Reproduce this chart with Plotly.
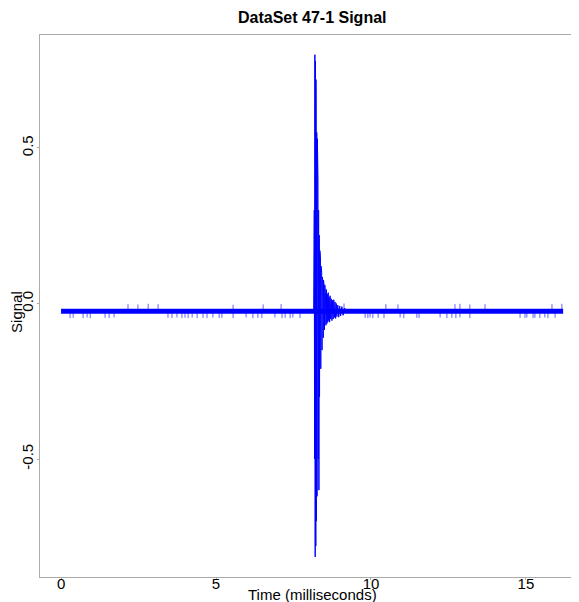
import plotly.graph_objects as go

# ---- data ----
band_time = [0.0, 16.2]          # ms, extent of the dense noise band
band_level = [-0.025, -0.025]    # centre of the noise band

spike_down_time = [0.29, 0.39, 0.71, 0.84, 0.94, 1.42, 1.55, 1.71, 3.45, 3.58, 3.74, 3.90,
                   4.00, 4.10, 4.23, 4.39, 4.58, 4.71, 4.90, 5.10, 5.19, 5.55, 5.97, 6.19,
                   6.35, 6.48, 6.90, 7.13, 7.23, 7.39, 7.48, 7.71, 9.81, 9.90, 9.97, 10.06,
                   10.23, 10.42, 10.94, 11.06, 11.48, 11.55, 12.23, 12.45, 12.61, 12.74, 12.87,
                   13.19, 14.81, 14.97, 15.03, 15.23, 15.29, 15.45, 15.61, 15.71, 15.94]
spike_down_value = [-0.047, -0.046, -0.047, -0.045, -0.047, -0.046, -0.047, -0.045,
                    -0.046, -0.047, -0.045, -0.047, -0.046, -0.047, -0.045, -0.047, -0.046,
                    -0.047, -0.045, -0.047, -0.046, -0.047, -0.045, -0.047, -0.046, -0.047,
                    -0.045, -0.047, -0.046, -0.047, -0.045, -0.047, -0.046, -0.047, -0.045,
                    -0.047, -0.046, -0.047, -0.045, -0.047, -0.046, -0.047, -0.045, -0.047,
                    -0.046, -0.047, -0.045, -0.047, -0.046, -0.047, -0.045, -0.047, -0.046,
                    -0.047, -0.045, -0.047, -0.046]

spike_up_time = [2.16, 2.48, 2.81, 3.13, 5.55, 6.52, 7.10, 9.13, 10.48, 10.87, 12.71,
                 12.87, 13.19, 13.68, 15.84, 16.16]
spike_up_value = [-0.002, -0.003, -0.001, -0.002, -0.004, -0.003, -0.002, 0.000, -0.002,
                  -0.003, -0.002, -0.001, -0.003, -0.002, -0.002, -0.001]

burst_time = [8.15, 8.17, 8.18, 8.185, 8.19, 8.195, 8.20, 8.205, 8.21, 8.215, 8.22, 8.225,
              8.23, 8.235, 8.24, 8.25, 8.26, 8.27, 8.28, 8.29, 8.30, 8.31, 8.32, 8.33,
              8.34, 8.35, 8.36, 8.37, 8.38, 8.39, 8.40, 8.41, 8.42, 8.43, 8.44, 8.45,
              8.46, 8.47, 8.48, 8.49, 8.50, 8.51, 8.52, 8.53, 8.545, 8.56, 8.575, 8.59,
              8.605, 8.62, 8.635, 8.65, 8.665, 8.68, 8.70, 8.72, 8.74, 8.76, 8.78, 8.80,
              8.82, 8.84, 8.86, 8.88, 8.90, 8.93, 8.96, 8.99, 9.02, 9.06, 9.10, 9.15, 9.20]
burst_value = [-0.023, 0.30, -0.50, 0.55, 0.80, -0.74, -0.815, 0.70, 0.78, -0.60, -0.78, 0.72,
               0.60, -0.70, -0.45, 0.55, -0.62, 0.53, -0.55, 0.40, -0.50, 0.30, -0.60, 0.22,
               -0.30, 0.17, -0.26, 0.15, -0.21, 0.12, -0.19, 0.10, -0.15, 0.085, -0.13, 0.07,
               -0.11, 0.075, -0.095, 0.05, -0.085, 0.06, -0.08, 0.035, -0.07, 0.045, -0.065,
               0.03, -0.06, 0.035, -0.055, 0.02, -0.06, 0.025, -0.05, 0.015, -0.055, 0.01,
               -0.05, 0.012, -0.045, 0.005, -0.048, 0.0, -0.042, -0.005, -0.044, -0.008,
               -0.04, -0.01, -0.038, -0.015, -0.025]

x_tick_vals = [0, 5, 10, 15]
x_tick_text = ["0", "5", "10", "15"]
y_tick_vals = [-0.5, 0.0, 0.5]
y_tick_text = ["-0.5", "0.0", "0.5"]

BLUE = "#0000FF"
GREY = "#ababab"
FONT = "Liberation Sans, Arial, sans-serif"


def segments(times, values, base):
    xs, ys = [], []
    for t, v in zip(times, values):
        xs += [t, t, None]
        ys += [base, v, None]
    return xs, ys


fig = go.Figure()

fig.add_trace(go.Scatter(x=band_time, y=band_level, mode="lines",
                         line=dict(color=BLUE, width=5), hoverinfo="skip"))

dx, dy = segments(spike_down_time, spike_down_value, band_level[0])
fig.add_trace(go.Scatter(x=dx, y=dy, mode="lines", line=dict(color=BLUE, width=1),
                         opacity=0.6, hoverinfo="skip"))
ux, uy = segments(spike_up_time, spike_up_value, band_level[0])
fig.add_trace(go.Scatter(x=ux, y=uy, mode="lines", line=dict(color=BLUE, width=1),
                         opacity=0.6, hoverinfo="skip"))

fig.add_trace(go.Scatter(x=burst_time, y=burst_value, mode="lines",
                         line=dict(color=BLUE, width=1), hoverinfo="skip"))

# the page body adds an 8px offset, so the figure is sized 8px smaller
fig.update_layout(
    width=571, height=594,
    margin=dict(l=32, r=1, t=27, b=25),
    paper_bgcolor="white", plot_bgcolor="white",
    showlegend=False,
    font=dict(family=FONT, size=15, color="black"),
    xaxis=dict(range=[-0.68, 16.68], tickvals=x_tick_vals, ticktext=x_tick_text,
               showgrid=False, zeroline=False, showline=True, linecolor=GREY, linewidth=1,
               mirror=True, ticks="outside", ticklen=2, tickcolor=GREY,
               ticklabelstandoff=-9, tickfont=dict(size=15)),
    yaxis=dict(range=[-0.8794, 0.8633], tickvals=y_tick_vals, ticktext=y_tick_text,
               showgrid=False, zeroline=False, showline=True, linecolor=GREY, linewidth=1,
               mirror=True, ticks="outside", ticklen=2, tickcolor=GREY, tickangle=-90,
               ticklabelstandoff=-2, tickfont=dict(size=15)),
    annotations=[
        dict(text="<b>DataSet 47-1 Signal</b>", x=0.5056, y=1.0314, xref="paper",
             yref="paper", xanchor="center", yanchor="middle", showarrow=False,
             font=dict(size=16)),
        dict(text="Time (milliseconds)", x=0.5056, y=-0.0314, xref="paper", yref="paper",
             xanchor="center", yanchor="middle", showarrow=False, font=dict(size=15)),
        dict(text="Signal", x=-0.0428, y=0.489, xref="paper", yref="paper",
             xanchor="center", yanchor="middle", showarrow=False, textangle=-90,
             font=dict(size=15)),
    ],
)

fig.write_html("out.html")
